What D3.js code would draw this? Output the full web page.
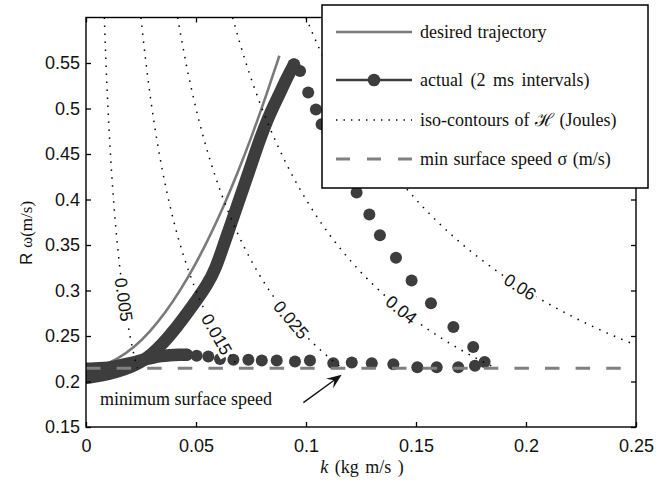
<!DOCTYPE html>
<html>
<head>
<meta charset="utf-8">
<script src="https://cdn.jsdelivr.net/npm/d3@7"></script>
<style>
  body { margin: 0; background: #fff; }
  text { fill: #111; }
</style>
</head>
<body>
<svg width="664" height="482"></svg>
<script>
// axis ticks
const xTicks = [0, 0.05, 0.1, 0.15, 0.2, 0.25];
const yTicks = [0.15, 0.2, 0.25, 0.3, 0.35, 0.4, 0.45, 0.5, 0.55];

// desired trajectory (k, R omega)
const desiredK = [0.000, 0.007, 0.014, 0.022, 0.029, 0.036, 0.043, 0.050, 0.056, 0.0625, 0.069, 0.075, 0.081, 0.0879];
const desiredR = [0.214, 0.2166, 0.224, 0.2377, 0.2545, 0.2754, 0.3006, 0.3298, 0.3581, 0.3921, 0.4296, 0.4672, 0.5078, 0.558];

// actual: densely sampled part on the way up (markers overlap into a band)
const riseK = [0.000, 0.007, 0.014, 0.020, 0.025, 0.030, 0.035, 0.040, 0.045, 0.050, 0.055, 0.0588,
               0.063, 0.066, 0.069, 0.072, 0.0755, 0.079, 0.0825, 0.0855, 0.088, 0.090, 0.0925, 0.0945];
const riseR = [0.204, 0.2063, 0.2105, 0.2155, 0.2215, 0.230, 0.242, 0.256, 0.272, 0.2885, 0.306, 0.323,
               0.353, 0.374, 0.395, 0.416, 0.441, 0.466, 0.488, 0.504, 0.516, 0.527, 0.539, 0.548];

// actual: densely sampled tail on the way back
const tailK = [0.0458, 0.042, 0.038, 0.034, 0.030, 0.026, 0.022, 0.018, 0.014, 0.010, 0.006, 0.002, 0.000];
const tailR = [0.2293, 0.2295, 0.229, 0.228, 0.226, 0.224, 0.221, 0.219, 0.217, 0.215, 0.2145, 0.214, 0.214];

// actual: separate markers (fall and return)
const dotK = [0.0973, 0.101, 0.1045, 0.1071, 0.1125, 0.1175, 0.123, 0.1288, 0.1336, 0.1409, 0.148, 0.1568,
              0.167, 0.176, 0.1812, 0.1768, 0.1692, 0.1594, 0.1506, 0.1397, 0.1299, 0.1208, 0.1124, 0.1018,
              0.095, 0.0867, 0.0799, 0.0738, 0.067, 0.0609, 0.0556, 0.0503, 0.0458];
const dotR = [0.5413, 0.5175, 0.499, 0.4826, 0.458, 0.433, 0.4077, 0.3835, 0.3607, 0.336, 0.311, 0.286,
              0.260, 0.2378, 0.2213, 0.2172, 0.2157, 0.2157, 0.2157, 0.219, 0.220, 0.2208, 0.2201, 0.223,
              0.2219, 0.223, 0.223, 0.2238, 0.2238, 0.2246, 0.2274, 0.2282, 0.2293];

// iso-contours of H = k * R omega (Joules) and where their labels sit
const contourLevels = [0.005, 0.015, 0.025, 0.04, 0.06];
const contourLabels = ["0.005", "0.015", "0.025", "0.04", "0.06"];
const labelR = [0.29, 0.252, 0.268, 0.279, 0.304];

const minSpeed = 0.2145;

const legendLabels = ["desired trajectory", "actual (2 ms intervals)", "iso-contours of \u210B (Joules)", "min surface speed \u03C3 (m/s)"];

const svg = d3.select("svg");
svg.append("rect").attr("width", 664).attr("height", 482).attr("fill", "#fff");

const x = d3.scaleLinear().domain([0, 0.25]).range([86, 636]);
const y = d3.scaleLinear().domain([0.15, 0.6]).range([427, 17.5]);

const dark = "#3d3d3d";
const grey = "#7a7a7a";

svg.append("clipPath").attr("id", "plot")
  .append("rect")
  .attr("x", 86).attr("y", 17.5).attr("width", 550).attr("height", 409.5);

const plot = svg.append("g").attr("clip-path", "url(#plot)");

const pts = (ks, rs) => ks.map((k, i) => [k, rs[i]]);
const smooth = d3.line().x(d => x(d[0])).y(d => y(d[1])).curve(d3.curveBasis);

// desired trajectory
plot.append("path")
  .attr("d", smooth(pts(desiredK, desiredR)))
  .attr("fill", "none")
  .attr("stroke", grey)
  .attr("stroke-width", 2.6);

// actual trajectory: dense parts as a continuous trace of markers
[pts(riseK, riseR), pts(tailK, tailR)].forEach(seg => {
  plot.append("path")
    .attr("d", smooth(seg))
    .attr("fill", "none")
    .attr("stroke", dark)
    .attr("stroke-width", 12.5)
    .attr("stroke-linecap", "round")
    .attr("stroke-linejoin", "round");
});
plot.append("circle")
  .attr("cx", x(riseK[riseK.length - 1])).attr("cy", y(riseR[riseR.length - 1]))
  .attr("r", 6.5).attr("fill", dark);

plot.selectAll(".dot").data(pts(dotK, dotR)).join("circle")
  .attr("class", "dot")
  .attr("cx", d => x(d[0])).attr("cy", d => y(d[1]))
  .attr("r", 6).attr("fill", dark);

// iso-contours
contourLevels.forEach(H => {
  const k0 = H / 0.6, k1 = Math.min(H / minSpeed, 0.25);
  const ks = d3.range(k0, k1, (k1 - k0) / 300).concat([k1]);
  plot.append("path")
    .attr("d", d3.line().x(k => x(k)).y(k => y(H / k))(ks))
    .attr("fill", "none")
    .attr("stroke", "#000")
    .attr("stroke-width", 1.5)
    .attr("stroke-dasharray", "1.5,6.5");
});

// min surface speed
plot.append("line")
  .attr("x1", x(0)).attr("x2", x(0.25))
  .attr("y1", y(minSpeed)).attr("y2", y(minSpeed))
  .attr("stroke", "#808080")
  .attr("stroke-width", 3)
  .attr("stroke-dasharray", "14.5,16.1");

// contour labels
const pxPerK = 550 / 0.25, pxPerR = 409.5 / 0.45;
contourLevels.forEach((H, i) => {
  const r = labelR[i], k = H / r;
  const ang = Math.atan2(H / (k * k) * pxPerR, pxPerK) * 180 / Math.PI;
  const g = svg.append("g").attr("transform", `translate(${x(k)},${y(r)}) rotate(${ang})`);
  const bg = g.append("rect").attr("fill", "#fff");
  const t = g.append("text")
    .attr("text-anchor", "middle")
    .attr("dy", "0.36em")
    .style("font-family", "'Liberation Sans', Arial, sans-serif")
    .style("font-size", "17.5px")
    .text(contourLabels[i]);
  const bb = t.node().getBBox();
  bg.attr("x", bb.x - 2).attr("y", bb.y + 1).attr("width", bb.width + 4).attr("height", bb.height - 2);
});

// frame and axes
svg.append("rect")
  .attr("x", 86).attr("y", 17.5).attr("width", 550).attr("height", 409.5)
  .attr("fill", "none").attr("stroke", "#000").attr("stroke-width", 1.4);

const tickFont = g => g.selectAll("text")
  .style("font-family", "'Liberation Sans', Arial, sans-serif")
  .style("font-size", "18px")
  .attr("fill", "#111");

svg.append("g").attr("transform", "translate(0,427)")
  .call(d3.axisBottom(x).tickValues(xTicks).tickFormat(d3.format("")).tickSize(-5).tickSizeOuter(0).tickPadding(12))
  .call(tickFont);
svg.append("g").attr("transform", "translate(86,0)")
  .call(d3.axisLeft(y).tickValues(yTicks).tickFormat(d3.format("")).tickSize(-5).tickSizeOuter(0).tickPadding(6))
  .call(tickFont);
svg.append("g").attr("transform", "translate(0,17.5)")
  .call(d3.axisTop(x).tickValues(xTicks).tickFormat("").tickSize(-5).tickSizeOuter(0));
svg.append("g").attr("transform", "translate(636,0)")
  .call(d3.axisRight(y).tickValues(yTicks).tickFormat("").tickSize(-5).tickSizeOuter(0));
svg.selectAll(".domain").remove();
svg.selectAll(".tick line").attr("stroke", "#000").attr("stroke-width", 1.3);

// axis titles
svg.append("text")
  .attr("transform", "translate(32,233) rotate(-90)")
  .attr("text-anchor", "middle")
  .style("font-size", "17px")
  .call(t => {
    t.append("tspan").style("font-family", "'Liberation Sans', Arial, sans-serif").text("R  ");
    t.append("tspan").style("font-family", "'Liberation Serif', 'Times New Roman', serif").text("\u03C9(m/s)");
  });

svg.append("text")
  .attr("x", 362).attr("y", 473)
  .attr("text-anchor", "middle")
  .style("font-family", "'Liberation Serif', 'Times New Roman', serif")
  .style("font-size", "18px")
  .style("word-spacing", "2px")
  .call(t => {
    t.append("tspan").style("font-style", "italic").text("k");
    t.append("tspan").text("  (kg m/s )");
  });

// annotation
svg.append("text")
  .attr("x", x(0.0064)).attr("y", 405)
  .style("font-family", "'Liberation Serif', 'Times New Roman', serif")
  .style("font-size", "18px")
  .text("minimum surface speed");

const a0 = [x(0.0988), y(0.1768)], a1 = [x(0.1162), y(0.2073)];
const dx = a1[0] - a0[0], dy = a1[1] - a0[1], len = Math.hypot(dx, dy);
const ux = dx / len, uy = dy / len, nx = -uy, ny = ux;
const hl = 15, hw = 6;
svg.append("line")
  .attr("x1", a0[0]).attr("y1", a0[1])
  .attr("x2", a1[0] - ux * 8).attr("y2", a1[1] - uy * 8)
  .attr("stroke", "#111").attr("stroke-width", 1.4);
svg.append("path")
  .attr("d", `M${a1[0]},${a1[1]}
    L${a1[0] - ux * hl + nx * hw},${a1[1] - uy * hl + ny * hw}
    L${a1[0] - ux * hl * 0.6},${a1[1] - uy * hl * 0.6}
    L${a1[0] - ux * hl - nx * hw},${a1[1] - uy * hl - ny * hw}Z`)
  .attr("fill", "#111");

// legend
const lg = svg.append("g");
lg.append("rect")
  .attr("x", 322).attr("y", 5).attr("width", 326).attr("height", 183)
  .attr("fill", "#fff").attr("stroke", "#000").attr("stroke-width", 1.5);
const rowY = [32, 80, 120, 159];
const sx0 = 336, sx1 = 412;
lg.append("line").attr("x1", sx0).attr("x2", sx1).attr("y1", rowY[0]).attr("y2", rowY[0])
  .attr("stroke", grey).attr("stroke-width", 2.6);
lg.append("line").attr("x1", sx0).attr("x2", sx1).attr("y1", rowY[1]).attr("y2", rowY[1])
  .attr("stroke", dark).attr("stroke-width", 2.6);
lg.append("circle").attr("cx", (sx0 + sx1) / 2).attr("cy", rowY[1]).attr("r", 6.3).attr("fill", dark);
lg.append("line").attr("x1", sx0).attr("x2", sx1).attr("y1", rowY[2]).attr("y2", rowY[2])
  .attr("stroke", "#000").attr("stroke-width", 1.4).attr("stroke-dasharray", "1.4,6.1");
lg.append("line").attr("x1", sx0).attr("x2", sx1).attr("y1", rowY[3]).attr("y2", rowY[3])
  .attr("stroke", "#808080").attr("stroke-width", 3).attr("stroke-dasharray", "14,17");
lg.selectAll(".lt").data(legendLabels).join("text")
  .attr("class", "lt")
  .attr("x", 420).attr("y", (d, i) => rowY[i])
  .attr("dy", "0.33em")
  .style("font-family", "'Liberation Serif', 'Times New Roman', serif")
  .style("font-size", "18px")
  .style("word-spacing", (d, i) => i === 1 ? "3px" : "1px")
  .text(d => d);
</script>
</body>
</html>
